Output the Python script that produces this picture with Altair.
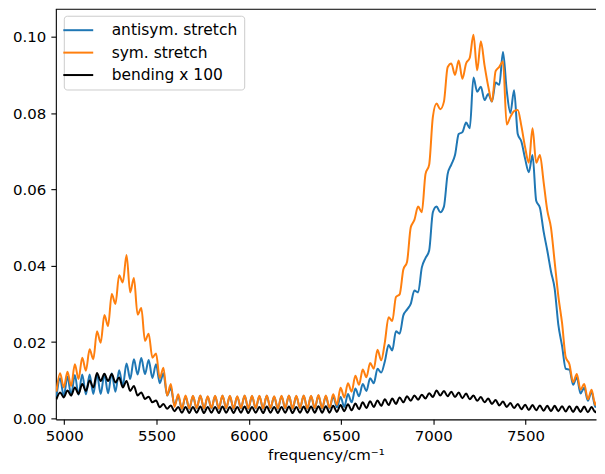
import altair as alt
import pandas as pd

# frequency grid (cm^-1)
FREQ = list(range(4958, 7940, 20))

ANTISYM = [
    .0055, .0105, .0058, .0110, .0060, .0114, .0062, .0115, .0063, .0115,
    .0064, .0116, .0064, .0116, .0066, .0118, .0070, .0126, .0085, .0144,
    .0103, .0155, .0115, .0158, .0116, .0153, .0106, .0142, .0092, .0118,
    .0060, .0080, .0035, .0058, .0025, .0057,
    .0025, .0058, .0026, .0059, .0025, .0057, .0026, .0058, .0025, .0059,
    .0026, .0058, .0025, .0057, .0026, .0059, .0025, .0058, .0026, .0058,
    .0025, .0059, .0026, .0057, .0025, .0058, .0026, .0059, .0025, .0058,
    .0026, .0059, .0025, .0058, .0026, .0059, .0026, .0058,
    .0026, .0058, .0029, .0056, .0030, .0064, .0042, .0078, .0058, .0090,
    .0072, .0105, .0092, .0130, .0120, .0150,
    .0192, .0178, .0228, .0222, .0270, .0285, .0300, .0335, .0330, .0395,
    .0420, .0440, .0540, .0555, .0540, .0555, .0640, .0665, .0690, .0745,
    .0750, .0775, .0760, .0893, .0856, .0869, .0834, .0850, .0830, .0880,
    .0874, .0960, .0860, .0800, .0860, .0745, .0725, .0680, .0645, .0690,
    .0570, .0552, .0490, .0440, .0385, .0340, .0245, .0190, .0130, .0128,
    .0088, .0108, .0065, .0080, .0046, .0070, .0030, .0055, .0026, .0050,
]

SYM = [
    .0070, .0118, .0081, .0122, .0085, .0142, .0103, .0159, .0125, .0181,
    .0155, .0228, .0198, .0271, .0242, .0326, .0300, .0375, .0356, .0428,
    .0330, .0368, .0272, .0289, .0203, .0222, .0159, .0170, .0105, .0133,
    .0060, .0090, .0030, .0063, .0025, .0060,
    .0026, .0059, .0027, .0060, .0026, .0058, .0027, .0059, .0026, .0060,
    .0027, .0059, .0026, .0058, .0027, .0060, .0026, .0059, .0027, .0059,
    .0026, .0060, .0027, .0058, .0026, .0059, .0027, .0060, .0026, .0059,
    .0027, .0060, .0026, .0059, .0027, .0061, .0027, .0060,
    .0028, .0063, .0036, .0080, .0055, .0092, .0070, .0112, .0088, .0128,
    .0108, .0145, .0130, .0180, .0152, .0200,
    .0265, .0255, .0318, .0325, .0390, .0410, .0500, .0520, .0555, .0540,
    .0640, .0665, .0790, .0825, .0810, .0830, .0920, .0930, .0900, .0938,
    .0890, .0930, .0945, .1005, .0912, .0988, .0925, .0870, .0830, .0910,
    .0921, .0935, .0770, .0790, .0805, .0808, .0765, .0710, .0670, .0760,
    .0670, .0690, .0620, .0545, .0500, .0410, .0320, .0250, .0160, .0142,
    .0095, .0116, .0075, .0090, .0050, .0075, .0035, .0064, .0030, .0058,
]

BENDING = [
    .0050, .0068, .0055, .0073, .0060, .0081, .0064, .0090, .0072, .0099,
    .0081, .0119, .0098, .0117, .0098, .0116, .0094, .0107, .0081, .0098,
    .0072, .0085, .0060, .0068, .0051, .0057, .0042, .0047, .0029, .0038,
    .0025, .0034, .0019, .0030, .0015, .0030,
    .0014, .0030, .0015, .0031, .0014, .0030, .0015, .0030, .0014, .0031,
    .0015, .0030, .0014, .0030, .0015, .0031, .0014, .0030, .0015, .0030,
    .0014, .0031, .0015, .0030, .0014, .0030, .0015, .0031, .0014, .0030,
    .0015, .0031, .0015, .0031, .0015, .0032, .0015, .0032,
    .0015, .0033, .0017, .0035, .0019, .0037, .0021, .0039, .0024, .0042,
    .0027, .0045, .0030, .0047, .0033, .0050,
    .0035, .0052, .0038, .0055, .0042, .0058, .0046, .0060, .0049, .0062,
    .0052, .0066, .0056, .0073, .0060, .0072, .0058, .0070, .0056, .0068,
    .0053, .0065, .0050, .0060, .0046, .0056, .0042, .0052, .0038, .0048,
    .0034, .0044, .0030, .0040, .0027, .0038, .0024, .0036, .0022, .0035,
    .0021, .0034, .0020, .0033, .0019, .0033, .0019, .0032, .0018, .0032,
    .0017, .0031, .0017, .0031, .0016, .0030, .0016, .0030, .0015, .0029,
]

SERIES = ["antisym. stretch", "sym. stretch", "bending x 100"]
COLORS = ["#1f77b4", "#ff7f0e", "#000000"]
X_TICKS = [5000, 5500, 6000, 6500, 7000, 7500]
Y_TICKS = [0.0, 0.02, 0.04, 0.06, 0.08, 0.10]

rows = []
for k, (name, vals) in enumerate(zip(SERIES, [ANTISYM, SYM, BENDING])):
    for f, v in zip(FREQ, vals):
        rows.append({"freq": f, "val": v, "series": name, "k": k})
df = pd.DataFrame(rows)

W, H = 542, 412
FONT = "DejaVu Sans"
FS = 15

lines = alt.Chart(df).mark_line(strokeWidth=2, interpolate="monotone", clip=True).encode(
    x=alt.X("freq:Q",
            scale=alt.Scale(domain=[4955, 7882], nice=False, zero=False),
            axis=alt.Axis(values=X_TICKS, format="d", title="frequency/cm⁻¹", grid=False,
                          labelPadding=4, titlePadding=4)),
    y=alt.Y("val:Q",
            scale=alt.Scale(domain=[-0.00026, 0.10733], nice=False, zero=False),
            axis=alt.Axis(values=Y_TICKS, format=".2f", title=None, grid=False,
                          labelPadding=5)),
    color=alt.Color("series:N",
                    scale=alt.Scale(domain=SERIES, range=COLORS),
                    legend=alt.Legend(title=None, orient="none", legendX=8, legendY=7,
                                      symbolType="M-2,0L2,0", symbolSize=225, symbolStrokeWidth=2,
                                      labelFontSize=15.5, labelFont=FONT, labelColor="black",
                                      labelOffset=25, rowPadding=5.5, padding=6,
                                      fillColor="rgba(255,255,255,0.8)", strokeColor="#cccccc",
                                      cornerRadius=3)),
    detail="k:N",
)

top = alt.Chart(pd.DataFrame({"a": [0]})).mark_rule(color="black", strokeWidth=1).encode(
    x=alt.value(0), x2=alt.value(W), y=alt.value(0.5)
)

chart = alt.layer(lines, top).properties(
    width=W, height=H,
    padding={"left": 4, "top": 0, "right": 0, "bottom": 0},
).configure_view(stroke=None).configure_axis(
    labelFont=FONT, labelFontSize=FS, labelColor="black",
    titleFont=FONT, titleFontSize=FS, titleColor="black", titleFontWeight="normal",
    domainColor="black", domainWidth=1.1, tickColor="black", tickWidth=1.1,
    tickSize=5,
)

chart.save("out.html", embed_options={"renderer": "svg", "actions": False})
